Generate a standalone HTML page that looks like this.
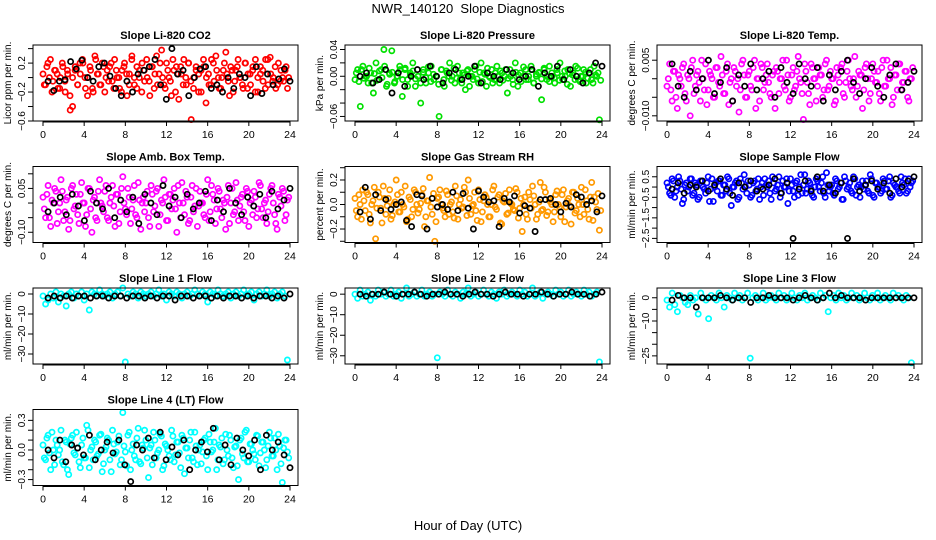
<!DOCTYPE html>
<html><head><meta charset="utf-8"><style>
html,body{margin:0;padding:0;background:#fff}
svg{display:block;font-family:"Liberation Sans",sans-serif}
</style></head><body>
<svg id="c" width="936" height="540" viewBox="0 0 936 540">
<text x="468" y="13" text-anchor="middle" font-size="13">NWR_140120&#160; Slope Diagnostics</text>
<text x="468" y="530" text-anchor="middle" font-size="13">Hour of Day (UTC)</text>
</svg>
<script>
const xTicks=[0,4,8,12,16,20,24];
const co2Main=[5,-10,20,25,-5,10,-15,0,15,-20,5,-45,-40,10,-10,20,25,0,-25,15,-15,30,5,-10,20,-20,10,15,-5,25,0,-15,10,20,-25,5,30,-10,15,0,-20,10,25,-5,15,-15,30,5,38,-10,20,0,-25,10,15,-30,5,25,-10,20,-58,0,15,-20,10,25,-35,5,-10,20,30,0,-15,10,35,-5,15,-20,10,25,0,-15,20,5,-10,15,25,-20,5,10,-15,25,28,-5,15,-10,-5,0,10,-15];
const co2Main2=[-10,15,0,-20,10,5,-15,20,-5,10,-25,0,15,-10,5,20,-15,0,10,-20,25,5,-10,15,0,-5,20,-15,10,0,-20,15,5,-10,25,0,-15,10,20,-5,0,-25,15,5,-10,20,0,-15,10,-5,25,-20,5,15,-10,0,20,-5,-15,10,5,-20,15,0,-10,25,-5,10,-15,0,20,5,-25,10,-5,15,0,-10,20,-15,5,10,-20,0,15,-5,25,-10,5,0,-15,20,10,-5,15,0];
const co2Black=[-5,-18,-5,-3,22,12,24,0,-5,15,20,2,-15,-25,-5,-20,5,10,15,25,-10,-30,40,5,10,-25,0,12,15,-15,-10,-20,0,-15,5,0,-25,15,-22,5,-10,-2,12,-5];
const presMain=[-5,10,-45,15,0,-10,5,-25,20,-5,10,40,-15,5,38,-10,0,15,-30,10,-5,5,20,-15,0,-40,10,-10,5,15,-5,0,-60,10,-15,5,20,0,-10,15,-5,5,-20,10,0,-5,15,-10,20,5,-15,0,10,-5,15,-10,5,0,-25,10,-5,20,-15,5,0,10,-5,15,-10,0,5,-35,10,-5,15,0,-10,5,20,-5,0,10,-15,5,15,-5,0,10,-10,5,-5,15,0,-65];
const presMain2=[5,-8,10,-3,0,12,-10,4,-6,8,-2,15,-12,3,6,-8,0,10,-5,12,-15,2,8,-4,0,-10,6,-2,14,-8,3,0,-12,10,-5,8,0,-6,12,-3,5,-10,2,8,-15,0,10,-4,6,-8,3,12,-2,-10,5,0,8,-6,10,-3,0,-12,6,2,-8,14,-5,0,10,-10,3,6,-4,12,0,-8,5,-2,10,-6,0,8,-12,4,2,-5,12,-8,0,6,-3,10,-10,2,5,-6];
const presBlack=[0,5,-10,-5,10,-25,5,-15,0,10,-5,15,0,-10,5,10,-5,0,15,-10,5,0,-5,10,5,-5,0,10,-15,5,0,15,-5,10,0,-10,5,20,15];
const tempMain=[-2,4,-6,2,-8,0,3,-4,1,-10,5,-2,2,-6,0,4,-3,1,-5,3,-1,6,-4,2,-7,0,3,-2,-9,4,1,-5,2,-3,5,0,-6,3,-1,4,-4,1,-8,2,0,5,-3,1,-5,3,-2,6,-1,-11,2,-4,4,0,-6,3,1,-3,5,-2,0,-7,3,-1,4,-5,2,0,-3,6,-2,1,-8,3,0,-4,4,-1,2,-6,5,-2,0,3,-5,1,4,-3,-1,2,-6,0];
const tempMain2=[0,-3,2,-5,1,-2,4,-6,0,3,-4,1,-1,5,-3,-7,2,0,-5,3,-2,1,-4,4,-1,-6,2,0,-3,5,-5,1,-2,3,-8,0,4,-3,1,-1,-5,2,3,-4,0,-2,5,-6,1,-3,2,0,-4,4,-1,-7,3,0,-2,1,-5,4,-3,2,0,-6,1,3,-4,-1,5,-2,0,-5,2,1,-3,4,-6,0,2,-1,-4,3,-2,5,0,-7,1,-3,4,-1,2,-5,0,3];
const tempBlack=[4,-2,-5,2,-3,0,5,-4,-1,3,-6,1,-2,4,-3,0,2,-5,3,-1,-4,4,0,-2,3,-6,1,-3,2,5,-1,-4,0,3,-2,-5,1,4,-3,-1,2];
const ambMain=[2,-5,6,-8,0,4,-3,8,-6,1,-9,5,-2,3,-7,7,0,-4,5,-10,2,-6,8,-1,4,-5,0,6,-8,3,-3,9,-2,5,-7,1,-4,7,-9,2,0,-5,6,-3,4,-8,1,8,-6,3,-2,5,-10,0,7,-4,2,-6,6,-1,-8,4,0,-5,8,-3,3,-7,5,-2,1,-9,6,0,-4,7,-6,2,-3,5,-8,1,4,-5,7,-2,0,-7,3,6,-4,-9,2,5,-6,1];
const ambMain2=[-2,3,-5,1,5,-7,0,4,-3,2,-6,6,-1,-4,3,0,-8,5,-2,1,-5,4,0,-3,6,-6,2,-1,3,-7,5,0,-4,2,-2,6,-5,1,0,-3,4,-8,3,-1,5,-4,0,2,-6,3,1,-2,6,-5,0,4,-7,2,-3,5,-1,0,-4,3,-6,6,1,-2,4,-5,0,2,-7,5,-3,1,-1,3,-6,4,0,-4,2,-2,6,-5,1,-3,5,0,-7,3,-1,4,-4,2];
const ambBlack=[-3,0,2,-4,3,-1,-6,4,0,-2,5,-5,1,-3,2,-7,3,0,-4,6,-1,2,-5,3,-2,0,4,-6,1,-3,5,0,-4,2,-1,3,-5,4,-2,1,5];
const rhMain=[5,-10,0,12,-5,8,-15,3,-28,10,-3,15,-8,5,-12,0,20,-6,10,-2,-14,6,-10,12,0,-4,8,-18,3,22,-8,-30,5,12,-3,-10,8,0,-6,15,-12,4,-2,10,20,-8,0,-5,12,-14,3,6,-10,0,15,-4,8,-16,2,-8,12,0,-5,10,-3,-22,6,-12,4,15,0,-8,18,-4,10,-6,2,-14,8,0,-10,12,-2,5,-16,10,-5,0,14,-8,3,-12,18,6,-4,-21];
const rhMain2=[-5,8,-12,3,10,-8,0,14,-3,6,-15,5,-1,12,-9,2,8,-6,0,15,-12,4,-4,10,-7,1,13,-10,3,-2,9,-14,6,0,-5,11,-8,2,-11,7,0,-3,14,-9,5,-1,10,-13,4,-6,8,0,-10,12,-2,6,-15,3,9,-7,1,-4,13,-11,5,0,-8,10,-3,7,-12,2,-5,14,-9,4,0,-6,11,-2,8,-14,3,-1,10,-7,5,-10,0,12,-4,6,-13,2,9,-5];
const rhBlack=[-6,14,-12,8,-5,4,-4,0,2,-13,-18,8,7,-20,5,-2,0,-4,10,-5,9,-3,-20,11,6,2,3,-18,5,2,7,-7,-1,-3,-22,4,4,5,0,-6,1,-2,8,6,0,3,-6,7];
const smpMain=[2,-3,4,-5,0,3,-8,1,-2,4,-4,2,-6,3,0,-3,5,-1,-7,2,3,-4,1,-2,4,-9,0,3,-5,2,6,-3,1,-4,3,-1,-6,2,4,0,-3,5,-2,1,-5,3,0,-8,4,-2,2,-4,6,1,-3,3,-1,-5,4,0,2,-3,7,-2,1,-4,3,0,-6,5,-1,2,-3,4,0,-5,3,1,-2,6,-4,2,0,-3,4,-1,3,-5,2,0,-2,5,1,-3,4,2];
const smpMain2=[0,-4,3,-2,5,-1,-6,2,0,4,-3,1,-5,3,-1,2,-7,4,0,-2,3,-4,1,5,-3,0,2,-6,4,-1,0,3,-5,2,-2,4,0,-4,1,3,-6,2,-1,5,-3,0,4,-2,1,-5,3,0,-3,6,-1,2,-4,0,3,-2,5,-5,1,0,-3,4,-1,2,-6,3,0,-2,5,-4,1,0,-1,3,-3,4,-5,2,0,-2,3,-1,5,-4,1,0,-3,2,4,-2,0,3];
const smpBlack=[-1,2,-3,1,0,3,-2,1,4,-1,-4,2,0,3,-2,-1,1,4,-3,2,-25,-1,3,-2,5,-2,1,-3,2,-25,4,-2,1,3,-1,2,-3,4,0,3,5];
const l1Main=[-1,-5,-3,0,-2,1,-4,0,-1,-6,0,1,-2,0,-1,1,-3,0,-8,1,0,-1,2,0,-1,0,1,-2,0,1,-1,3,-34,0,-1,1,0,-2,1,0,-1,0,1,-1,0,2,-1,0,-3,1,0,-1,1,0,-2,0,1,-1,0,2,0,-1,1,0,-4,1,0,-1,2,0,-1,0,1,-2,0,1,-1,0,2,-1,0,1,-3,0,1,-1,0,2,-1,0,1,-2,0,1,-1,-33];
const l1Black=[-2,-1,-2,-1,-2,-1,-1,-2,-1,-1,-2,-1,-1,-2,-1,-1,-2,-1,-2,-1,-1,-3,-1,-1,-2,-1,-1,-2,-1,-2,-1,-1,-2,-1,-2,-1,-1,-2,-1,-2,0];
const l2Main=[0,-2,2,-1,0,1,-3,0,-1,2,0,1,-1,0,2,-1,0,1,-2,0,3,-1,0,1,-1,0,2,-1,0,1,-1,0,-31,1,0,-1,2,0,-1,1,0,-2,1,0,3,-1,0,1,-1,0,2,0,-1,1,0,-2,1,0,2,-1,0,1,0,-1,2,0,1,-1,0,3,-1,0,1,-2,0,1,0,-1,2,0,1,-1,0,2,-1,0,1,0,-1,2,0,1,-1,0,1,-33];
const l2Black=[0,-1,0,0,1,0,-1,0,0,1,0,-1,0,0,1,0,0,-1,0,1,0,0,-1,0,1,0,0,-1,0,0,1,0,-1,0,0,1,0,0,-1,0,1];
const l3Main=[-1,-4,2,-3,-6,1,0,-2,-3,1,-1,0,-7,2,0,-1,-9,1,0,-1,2,0,-4,1,0,-1,2,0,1,-1,0,2,-26,0,1,-1,0,2,-1,0,1,0,-1,2,0,1,-1,0,2,0,-1,1,0,2,-1,0,1,0,-1,2,0,1,-6,0,1,-1,2,0,1,-1,0,2,0,1,-1,0,2,0,-1,1,0,2,-1,0,1,0,-1,2,0,1,0,-1,1,0,-28];
const l3Black=[-1,1,0,0,-4,0,0,0,1,0,-1,0,0,-2,0,0,1,0,0,0,-1,0,1,0,-1,0,2,0,1,0,0,0,-1,0,0,0,0,0,0,0,0];
const l4Main=[5,-10,15,-20,0,10,-5,20,-15,8,-25,12,-3,18,-12,5,-8,25,-18,3,10,-6,15,-22,0,12,-10,20,-4,8,-15,38,-2,15,-20,6,-10,22,-14,2,10,-28,5,18,-8,0,14,-16,4,-6,20,-12,8,-3,15,-24,2,10,-8,18,-15,5,-2,12,-20,8,0,22,-10,3,-14,16,-6,10,-18,4,-30,12,-8,20,-12,6,-4,15,-16,8,0,-10,18,-6,12,-20,4,-33,10,-2];
const l4Main2=[-8,12,-3,18,-15,5,0,-12,10,-20,6,15,-5,2,-18,12,-8,20,0,-10,8,-4,16,-14,3,10,-22,6,-2,14,-10,4,-16,18,0,-6,12,-12,5,20,-8,2,-15,10,-3,16,-20,6,0,-10,14,-5,8,-18,12,2,-8,18,-12,4,0,-14,10,-6,16,-2,8,-20,5,12,-10,0,15,-8,3,-16,10,-4,18,-12,6,0,-10,14,-3,8,-18,4,12,-6,0,16,-14,2,10,-8];
const l4Black=[0,-8,10,-12,5,2,-5,15,-10,0,8,-3,10,-15,-32,5,0,12,-8,18,-10,3,-5,10,-20,0,8,-2,22,-10,5,-15,12,0,-6,10,-20,15,0,8,-5,-18];
const panels=[
 {t:"Slope Li-820 CO2",yl:"Licor ppm per min.",m:co2Main,m2:co2Main2,b:co2Black,s:0.01,lo:-0.6,hi:0.45,ticks:[-0.6,-0.4,-0.2,0,0.2,0.4],lab:[-0.6,-0.2,0.2],col:"#ff0000",r:0,c:0,d:1},
 {t:"Slope Li-820 Pressure",yl:"kPa per min.",m:presMain,m2:presMain2,b:presBlack,s:0.001,lo:-0.0668,hi:0.0467,ticks:[-0.06,-0.04,-0.02,0,0.02,0.04],lab:[-0.06,0,0.04],col:"#00e000",r:0,c:1,d:2},
 {t:"Slope Li-820 Temp.",yl:"degrees C per min.",m:tempMain,m2:tempMain2,b:tempBlack,s:0.001,lo:-0.0114,hi:0.0091,ticks:[-0.01,-0.005,0,0.005],lab:[-0.01,0.005],col:"#ff00ff",r:0,c:2,d:3},
 {t:"Slope Amb. Box Temp.",yl:"degrees C per min.",m:ambMain,m2:ambMain2,b:ambBlack,s:0.01,lo:-0.135,hi:0.125,ticks:[-0.1,-0.05,0,0.05,0.1],lab:[-0.1,0.05],col:"#ff00ff",r:1,c:0,d:2},
 {t:"Slope Gas Stream RH",yl:"percent per min.",m:rhMain,m2:rhMain2,b:rhBlack,s:0.01,lo:-0.31,hi:0.31,ticks:[-0.3,-0.2,-0.1,0,0.1,0.2,0.3],lab:[-0.2,0,0.2],col:"#ff9900",r:1,c:1,d:1},
 {t:"Slope Sample Flow",yl:"ml/min per min.",m:smpMain,m2:smpMain2,b:smpBlack,s:0.1,lo:-2.7,hi:1.0,ticks:[-2.5,-2,-1.5,-1,-0.5,0,0.5],lab:[-2.5,-1.5,-0.5,0.5],col:"#0000ff",r:1,c:2,d:1},
 {t:"Slope Line 1 Flow",yl:"ml/min per min.",m:l1Main,m2:[],b:l1Black,s:1,lo:-35,hi:3,ticks:[-30,-20,-10,0],lab:[-30,-20,-10,0],col:"#00ffff",r:2,c:0,d:0},
 {t:"Slope Line 2 Flow",yl:"ml/min per min.",m:l2Main,m2:[],b:l2Black,s:1,lo:-34,hi:3,ticks:[-30,-20,-10,0],lab:[-30,-20,-10,0],col:"#00ffff",r:2,c:1,d:0},
 {t:"Slope Line 3 Flow",yl:"ml/min per min.",m:l3Main,m2:[],b:l3Black,s:1,lo:-28.5,hi:4.2,ticks:[-25,-20,-15,-10,-5,0],lab:[-25,-10,0],col:"#00ffff",r:2,c:2,d:0},
 {t:"Slope Line 4 (LT) Flow",yl:"ml/min per min.",m:l4Main,m2:l4Main2,b:l4Black,s:0.01,lo:-0.36,hi:0.41,ticks:[-0.3,-0.2,-0.1,0,0.1,0.2,0.3],lab:[-0.3,0,0.3],col:"#00ffff",r:3,c:0,d:1}
];
const NS="http://www.w3.org/2000/svg";
const svg=document.getElementById('c');
function mk(tag,attrs,parent){const e=document.createElementNS(NS,tag);for(const k in attrs)e.setAttribute(k,attrs[k]);parent.appendChild(e);return e;}
function fmt(v,d){if(Math.abs(v)<1e-12)return d===0?"0":(0).toFixed(d);return v.toFixed(d).replace('-','\u2212');}
panels.forEach((p,pi)=>{
 const L=33+312*p.c,W=265,T=45+121.5*p.r,H=76;
 const g=mk('g',{},svg);
 
 
 const xs=h=>L+10+h*(247/24);
 const ys=v=>T+H-(v-p.lo)/(p.hi-p.lo)*H;
 const tt=mk('text',{x:L+W/2,y:T-6,'text-anchor':'middle','font-size':11,'font-weight':'bold'},g);tt.textContent=p.t;
 
 
 const pts=mk('g',{fill:'none'},g);
 
 
 p.m.forEach((v,i)=>{const h=i*24/p.m.length;const c=mk('circle',{cx:xs(h).toFixed(1),cy:ys(v*p.s).toFixed(1),r:2.6,stroke:p.col,'stroke-width':1.7},pts);
  
  });
 p.m2.forEach((v,i)=>{const h=(i+0.5)*24/p.m2.length;const c=mk('circle',{cx:xs(h).toFixed(1),cy:ys(v*p.s).toFixed(1),r:2.6,stroke:p.col,'stroke-width':1.7},pts);
  
  });
 const bp=mk('g',{fill:'none'},g);
 
 
 p.b.forEach((v,i)=>{const h=0.5+i*23.5/(p.b.length-1);const c=mk('circle',{cx:xs(h).toFixed(1),cy:ys(v*p.s).toFixed(1),r:2.6,stroke:'#000','stroke-width':1.7},bp);
  
  });
 const box=mk('rect',{x:L,y:T,width:W,height:H,fill:'none',stroke:'#000','stroke-width':1},g);
 
 
 const xa=mk('g',{},g);
 
 
 mk('line',{x1:xs(0),x2:xs(24),y1:T+H+1,y2:T+H+1,stroke:'#000'},xa);
 xTicks.forEach(h=>{mk('line',{x1:xs(h),x2:xs(h),y1:T+H,y2:T+H+5,stroke:'#000'},xa);
  const t=mk('text',{x:xs(h),y:T+H+17,'text-anchor':'middle','font-size':10.5},xa);t.textContent=h;});
 const ya=mk('g',{},g);
 
 
 mk('line',{x1:L,x2:L,y1:ys(p.ticks[0]),y2:ys(p.ticks[p.ticks.length-1]),stroke:'#000'},ya);
 p.ticks.forEach(v=>mk('line',{x1:L-5,x2:L,y1:ys(v),y2:ys(v),stroke:'#000'},ya));
 p.lab.forEach(v=>{const y=ys(v);const t=mk('text',{x:L-8,y:y,'text-anchor':'middle','font-size':10,transform:`rotate(-90 ${L-8} ${y})`},ya);t.textContent=fmt(v,p.d);});
 const yl=mk('text',{x:L-22,y:T+H/2,'text-anchor':'middle','font-size':10,transform:`rotate(-90 ${L-22} ${T+H/2})`},g);yl.textContent=p.yl;
 
 
});
</script>
</body></html>
